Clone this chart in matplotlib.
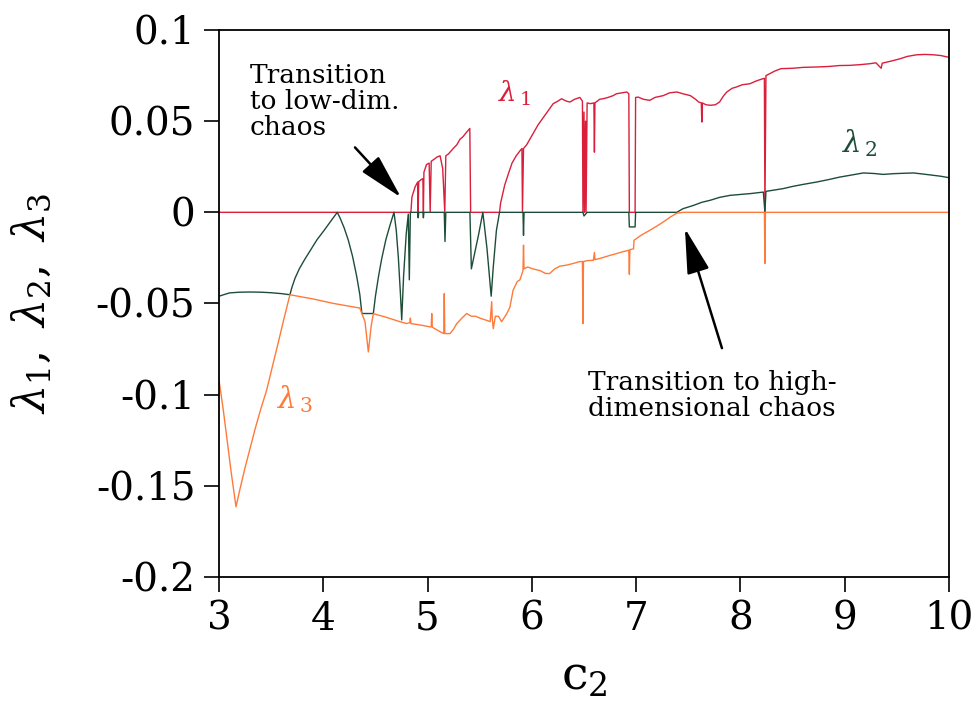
import numpy as np
import matplotlib
matplotlib.use("Agg")
import matplotlib.pyplot as plt

# Lyapunov exponents vs c2 as (c2, lambda) pairs
lam1_pts = [
    (3.0, 0), (4.84, 0), (4.85, 0.0084), (4.88, 0.0139), (4.905, 0.0166), (4.91, 0),
    (4.915, 0.0168), (4.935, 0.0178), (4.955, 0.0185), (4.96, 0), (4.965, 0.022),
    (4.99, 0.0262), (5.015, 0.027), (5.025, 0), (5.035, 0.028), (5.06, 0.029),
    (5.09, 0.0303), (5.12, 0.031), (5.145, 0.024), (5.165, 0), (5.175, 0.031),
    (5.2, 0.032), (5.246, 0.035), (5.28, 0.037), (5.31, 0.040), (5.34, 0.0415),
    (5.375, 0.044), (5.405, 0.046), (5.413, 0), (5.69, 0), (5.70, 0.005),
    (5.74, 0.015), (5.78, 0.022), (5.81, 0.027), (5.85, 0.031), (5.89, 0.034),
    (5.905, 0.035), (5.91, 0), (5.92, 0.035), (5.95, 0.037), (6.01, 0.043),
    (6.06, 0.048), (6.11, 0.052), (6.16, 0.056), (6.205, 0.0596), (6.25, 0.061),
    (6.285, 0.0623), (6.33, 0.061), (6.365, 0.0605), (6.41, 0.062), (6.46, 0.063),
    (6.485, 0.061), (6.49, 0), (6.50, 0.055), (6.505, 0), (6.515, 0.05), (6.52, 0),
    (6.53, 0.06), (6.56, 0.0596), (6.595, 0.060), (6.6, 0.033), (6.605, 0.060),
    (6.65, 0.062), (6.685, 0.0623), (6.73, 0.063), (6.78, 0.064), (6.81, 0.065),
    (6.86, 0.0655), (6.91, 0.066), (6.93, 0.065), (6.935, 0), (6.99, 0),
    (6.995, 0.063), (7.02, 0.0632), (7.07, 0.062), (7.13, 0.0614), (7.18, 0.063),
    (7.26, 0.064), (7.32, 0.0655), (7.39, 0.066), (7.45, 0.065), (7.52, 0.064),
    (7.57, 0.062), (7.6, 0.0605), (7.625, 0.060), (7.63, 0.0495), (7.635, 0.060),
    (7.67, 0.059), (7.71, 0.0587), (7.76, 0.059), (7.80, 0.0605), (7.84, 0.064),
    (7.87, 0.066), (7.92, 0.068), (7.96, 0.0687), (8.02, 0.070), (8.09, 0.0705),
    (8.15, 0.072), (8.20, 0.073), (8.23, 0.0735), (8.235, 0), (8.245, 0.075),
    (8.28, 0.076), (8.33, 0.0775), (8.39, 0.0788), (8.5, 0.079), (8.6, 0.0795),
    (8.73, 0.0797), (8.85, 0.080), (8.95, 0.0805), (9.05, 0.0806), (9.15, 0.081),
    (9.24, 0.0815), (9.3, 0.082), (9.35, 0.079), (9.36, 0.0818), (9.45, 0.083),
    (9.53, 0.0842), (9.6, 0.0855), (9.69, 0.0864), (9.77, 0.0866), (9.85, 0.0864),
    (9.92, 0.086), (10.0, 0.085),
]

lam2_pts = [
    (3.0, -0.046), (3.1, -0.0442), (3.2, -0.0438), (3.3, -0.0437), (3.4, -0.0438),
    (3.5, -0.0441), (3.6, -0.0446), (3.68, -0.0452), (3.70, -0.041), (3.73, -0.036),
    (3.77, -0.031), (3.82, -0.026), (3.88, -0.0205), (3.94, -0.015), (4.0, -0.0105),
    (4.06, -0.0058), (4.134, 0), (4.16, -0.003), (4.2, -0.0085), (4.24, -0.0153),
    (4.28, -0.024), (4.32, -0.035), (4.35, -0.045), (4.37, -0.0555), (4.48, -0.0555),
    (4.50, -0.046), (4.53, -0.035), (4.56, -0.0255), (4.60, -0.015), (4.64, -0.007),
    (4.678, 0), (4.70, -0.010), (4.72, -0.025), (4.74, -0.045), (4.752, -0.059),
    (4.77, -0.035), (4.795, -0.012), (4.815, -0.001), (4.825, -0.037), (4.835, 0),
    (4.905, 0), (4.91, -0.003), (4.915, 0), (4.955, 0), (4.96, -0.003), (4.965, 0),
    (5.16, 0), (5.167, -0.016), (5.175, 0), (5.406, 0), (5.42, -0.031), (5.49, -0.012),
    (5.53, 0), (5.57, -0.02), (5.61, -0.046), (5.63, -0.03), (5.66, -0.010), (5.69, 0),
    (5.915, 0), (5.92, -0.0126), (5.925, 0), (6.49, 0), (6.5, -0.002), (6.53, 0),
    (6.93, 0), (6.935, -0.008), (6.99, -0.008), (6.995, 0), (7.39, 0), (7.45, 0.002),
    (7.55, 0.0038), (7.63, 0.0055), (7.71, 0.0066), (7.8, 0.0082), (7.9, 0.0093),
    (8.0, 0.0098), (8.1, 0.0103), (8.22, 0.0111), (8.235, 0), (8.245, 0.0115),
    (8.3, 0.012), (8.41, 0.013), (8.5, 0.0142), (8.6, 0.0153), (8.73, 0.0166),
    (8.85, 0.018), (8.95, 0.0193), (9.05, 0.0203), (9.18, 0.0216), (9.28, 0.0213),
    (9.37, 0.0208), (9.47, 0.0212), (9.56, 0.0214), (9.66, 0.0216), (9.75, 0.021),
    (9.85, 0.0203), (9.92, 0.0198), (10.0, 0.019),
]

lam3_pts = [
    (3.0, -0.092), (3.04, -0.108), (3.08, -0.126), (3.12, -0.144), (3.163, -0.1615),
    (3.2, -0.152), (3.25, -0.140), (3.3, -0.129), (3.35, -0.118), (3.4, -0.108),
    (3.457, -0.0975), (3.51, -0.085), (3.57, -0.071), (3.62, -0.059), (3.68, -0.0452),
    (3.9, -0.0475), (4.1, -0.050), (4.35, -0.0525), (4.40, -0.060), (4.432, -0.0766),
    (4.46, -0.062), (4.48, -0.0556), (4.6, -0.0575), (4.735, -0.060), (4.80, -0.061),
    (4.83, -0.0605), (4.835, -0.058), (4.84, -0.061), (4.95, -0.062), (5.02, -0.0628),
    (5.035, -0.0628), (5.04, -0.0555), (5.045, -0.063), (5.12, -0.0655),
    (5.155, -0.0665), (5.16, -0.0446), (5.165, -0.0665), (5.215, -0.0665),
    (5.25, -0.064), (5.28, -0.061), (5.33, -0.058), (5.375, -0.0555), (5.42, -0.057),
    (5.46, -0.057), (5.5, -0.058), (5.58, -0.0595), (5.6, -0.060), (5.615, -0.049),
    (5.62, -0.058), (5.63, -0.0638), (5.65, -0.057), (5.68, -0.057), (5.71, -0.060),
    (5.76, -0.0555), (5.79, -0.052), (5.82, -0.0427), (5.86, -0.038), (5.886, -0.037),
    (5.915, -0.032), (5.92, -0.018), (5.925, -0.031), (5.96, -0.030), (6.01, -0.031),
    (6.08, -0.032), (6.13, -0.0335), (6.17, -0.0336), (6.22, -0.031), (6.27, -0.0295),
    (6.33, -0.029), (6.4, -0.028), (6.46, -0.027), (6.485, -0.027), (6.49, -0.061),
    (6.495, -0.027), (6.53, -0.0265), (6.59, -0.0263), (6.6, -0.022), (6.605, -0.026),
    (6.67, -0.025), (6.75, -0.0236), (6.82, -0.0225), (6.88, -0.0215), (6.93, -0.0208),
    (6.935, -0.034), (6.94, -0.0205), (6.975, -0.020), (6.98, -0.0153), (7.05, -0.0125),
    (7.13, -0.0099), (7.2, -0.0075), (7.26, -0.0053), (7.33, -0.0025), (7.39, -0.0005),
    (7.45, 0), (8.23, 0), (8.235, -0.028), (8.24, 0), (10.0, 0),
]

yticks = [-0.2, -0.15, -0.1, -0.05, 0, 0.05, 0.1]
ytick_labels = ["-0.2", "-0.15", "-0.1", "-0.05", "0", "0.05", "0.1"]
xticks = [3, 4, 5, 6, 7, 8, 9, 10]

RED = "#d91f3c"
GREEN = "#1d4d38"
ORANGE = "#ff7a3a"

plt.rcParams["font.family"] = ["DejaVu Serif"]
plt.rcParams["mathtext.fontset"] = "dejavuserif"

fig = plt.figure(figsize=(9.76, 7.09), dpi=100)
ax = fig.add_axes([0.2244, 0.1862, 0.9723 - 0.2244, 0.9577 - 0.1862])

for pts, color in ((lam1_pts, RED), (lam2_pts, GREEN), (lam3_pts, ORANGE)):
    arr = np.array(pts)
    ax.plot(arr[:, 0], arr[:, 1], color=color, lw=1.0)

ax.set_xlim(3, 10)
ax.set_ylim(-0.2, 0.1)
ax.set_xticks(xticks)
ax.set_xticklabels([str(t) for t in xticks])
ax.set_yticks(yticks)
ax.set_yticklabels(ytick_labels)
ax.tick_params(direction="out", length=11, width=1.2, labelsize=28, pad=6)
for sp in ax.spines.values():
    sp.set_linewidth(1.3)

ax.set_xlabel(r"$\mathrm{c}_2$", fontsize=34, labelpad=12)
ax.set_ylabel(r"$\lambda_1,\ \lambda_2,\ \lambda_3$", fontsize=32, labelpad=30)

# curve labels
ax.text(5.838, 0.0652, r"$\lambda_{\,1}$", color=RED, fontsize=20, ha="center", va="center")
ax.text(9.146, 0.0381, r"$\lambda_{\,2}$", color=GREEN, fontsize=21, ha="center", va="center")
ax.text(3.729, -0.1025, r"$\lambda_{\,3}$", color=ORANGE, fontsize=21, ha="center", va="center")

# annotations with arrows
arrow = dict(arrowstyle="-|>,head_length=1.4,head_width=0.35", color="black", lw=1.8,
             shrinkA=0, shrinkB=0, mutation_scale=20)
ax.text(3.297, 0.082, "Transition\nto low-dim.\nchaos", fontsize=19, ha="left", va="top",
        linespacing=1.05)
ax.annotate("", xy=(4.745, 0.0082), xytext=(4.304, 0.0356), arrowprops=arrow)
ax.text(6.538, -0.0866, "Transition to high-\ndimensional chaos", fontsize=19,
        ha="left", va="top", linespacing=1.05)
ax.annotate("", xy=(7.468, -0.0088), xytext=(7.823, -0.0745), arrowprops=arrow)

fig.savefig("out.png", dpi=100)
